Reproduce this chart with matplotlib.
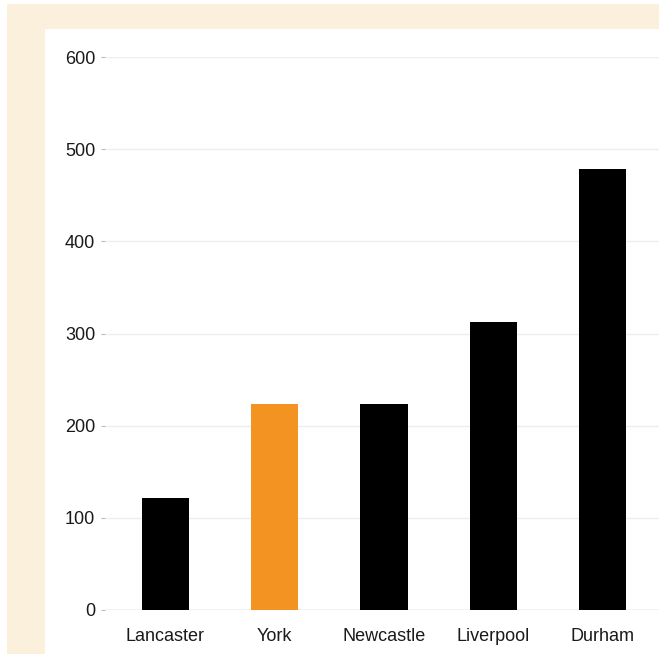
import matplotlib.pyplot as plt
import numpy as np
from matplotlib.patches import Rectangle

# Data
cities = ["Lancaster", "York", "Newcastle", "Liverpool", "Durham"]
values = [122, 223, 223, 313, 479]
highlight = "York"
y_ticks = [0, 100, 200, 300, 400, 500, 600]

W, H = 659, 654
plt.rcParams["font.family"] = ["Liberation Sans", "DejaVu Sans"]

fig = plt.figure(figsize=(W / 100, H / 100), dpi=100, facecolor="white")

# Cream frame and white panel behind the chart
fig.patches.append(
    Rectangle((7 / W, 0), 1, (H - 4) / H, transform=fig.transFigure,
              facecolor="#faf0dc", edgecolor="none", zorder=-2)
)
fig.patches.append(
    Rectangle((45 / W, 0), 1, (H - 29) / H, transform=fig.transFigure,
              facecolor="white", edgecolor="none", zorder=-1)
)

# Axes: 0 at y=610 px, 600 at y=57 px; x from 105 px to 663 px
left, right = 105, 663
bottom, top = 610, 57
ax = fig.add_axes([left / W, (H - bottom) / H, (right - left) / W, (bottom - top) / H])
ax.set_facecolor("none")

x = np.arange(len(cities))
colors = ["#f39322" if c == highlight else "black" for c in cities]
ax.bar(x, values, width=0.43, color=colors, zorder=3)

ax.set_xlim(-0.55, len(cities) - 0.45)
ax.set_ylim(0, 600)
ax.set_yticks(y_ticks)
ax.set_xticks(x)
ax.set_xticklabels(cities)

for s in ax.spines.values():
    s.set_visible(False)
ax.axhline(0, color="#cfcfcf", lw=1, zorder=2)
ax.yaxis.grid(True, color="#eeeeee", lw=1, zorder=0)
ax.set_axisbelow(True)

ax.tick_params(axis="y", length=3, width=0.8, color="#bbbbbb", pad=4,
               labelsize=13, labelcolor="#1a1a1a")
ax.tick_params(axis="x", length=0, pad=13, labelsize=13, labelcolor="#1a1a1a")

fig.savefig("out.png", dpi=100, facecolor="white")
